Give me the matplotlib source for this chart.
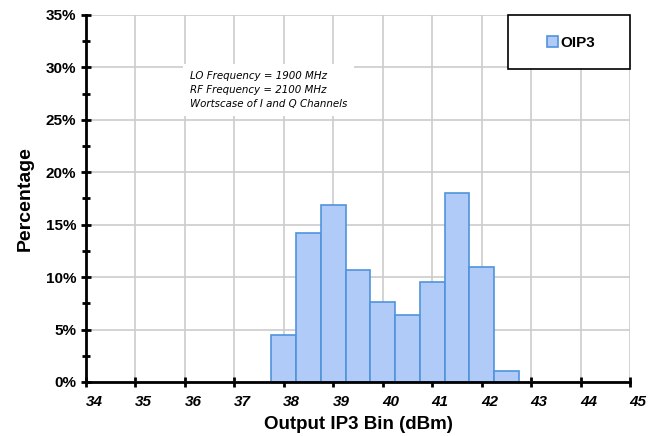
import matplotlib
matplotlib.use('Agg')
import matplotlib.pyplot as plt
import matplotlib.transforms as mtrans
from matplotlib.patches import Rectangle
from matplotlib.ticker import MultipleLocator, FuncFormatter

bins = [38, 38.5, 39, 39.5, 40, 40.5, 41, 41.5, 42, 42.5]
pct = [4.5, 14.2, 16.9, 10.7, 7.6, 6.4, 9.5, 18.0, 11.0, 1.0]
xticks = list(range(34, 46))

plt.rcParams['font.family'] = ['Liberation Sans', 'DejaVu Sans']

fig = plt.figure(figsize=(6.6, 4.36), dpi=100)
ax = fig.add_axes([0.1303, 0.1239, 0.8242, 0.8417])

ax.bar(bins, pct, width=0.5, color='#b0cbf8', edgecolor='#4f94dc',
       linewidth=1.2, label='OIP3', zorder=3)

ax.set_xlim(34, 45)
ax.set_ylim(0, 35)
ax.set_xticks(xticks)
ax.yaxis.set_major_locator(MultipleLocator(5))
ax.yaxis.set_minor_locator(MultipleLocator(2.5))
ax.yaxis.set_major_formatter(FuncFormatter(lambda v, p: f'{v:.0f}%'))

ax.grid(True, which='major', color='#cccccc', linewidth=1.2, zorder=0)
ax.set_axisbelow(True)

for s in ['top', 'right']:
    ax.spines[s].set_visible(False)
for s in ['left', 'bottom']:
    ax.spines[s].set_linewidth(2)
    ax.spines[s].set_color('black')
    ax.spines[s].set_zorder(4)

ax.tick_params(axis='both', which='both', direction='inout', width=2, length=7)
ax.tick_params(axis='y', which='minor', length=6)
ax.tick_params(axis='x', pad=6)

# italic x labels sit a little right of their ticks
shift = mtrans.ScaledTranslation(8 / 100, 0, fig.dpi_scale_trans)
for lab in ax.get_xticklabels():
    lab.set_fontstyle('italic')
    lab.set_fontweight('bold')
    lab.set_fontsize(11)
    lab.set_transform(lab.get_transform() + shift)
for lab in ax.get_yticklabels():
    lab.set_fontweight('bold')
    lab.set_fontsize(11)

ax.set_xlabel('Output IP3 Bin (dBm)', fontsize=13.5, fontweight='bold', labelpad=5)
ax.set_ylabel('Percentage', fontsize=14, fontweight='bold', labelpad=9)

ax.text(36.1, 29.7,
        'LO Frequency = 1900 MHz\nRF Frequency = 2100 MHz\nWortscase of I and Q Channels',
        fontsize=7.4, style='italic', family=['DejaVu Sans'], va='top', ha='left',
        linespacing=1.55,
        bbox=dict(facecolor='white', edgecolor='none', pad=5), zorder=5)

# legend box
ax.add_patch(Rectangle((0.7757, 0.853), 0.2243, 0.147, transform=ax.transAxes,
                       facecolor='white', edgecolor='black', linewidth=1.2,
                       zorder=6, clip_on=False))
leg = ax.legend(loc='center', bbox_to_anchor=(0.892, 0.924), frameon=False,
                prop={'weight': 'bold', 'size': 11},
                handlelength=0.7, handleheight=0.7, handletextpad=0.2,
                borderaxespad=0)
leg.set_zorder(7)

fig.savefig('out.png', dpi=100)
